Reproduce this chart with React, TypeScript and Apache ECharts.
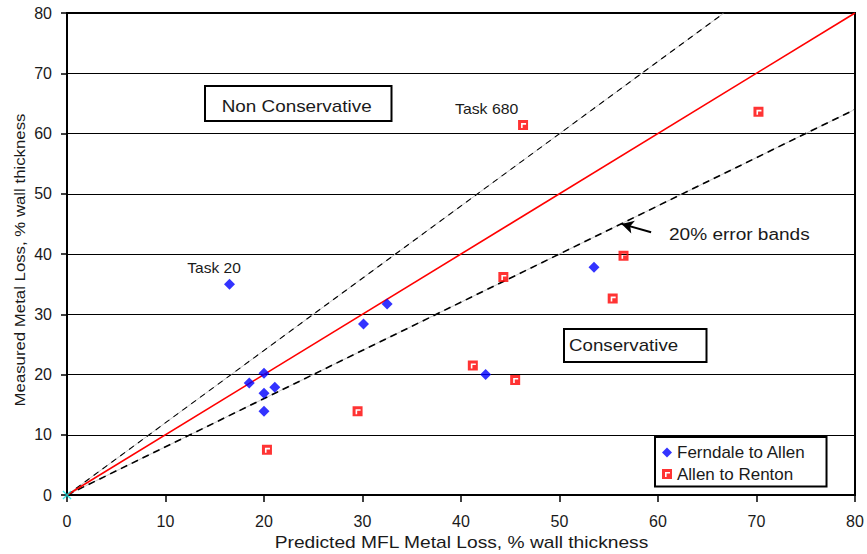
import React, { useEffect, useRef } from "react";
import * as echarts from "echarts";

const ferndaleToAllen: [number, number][] = [
  [16.5, 35.0], [18.5, 18.6], [20.0, 20.2], [20.0, 16.9], [21.1, 17.9],
  [20.0, 13.9], [30.1, 28.4], [32.5, 31.7], [42.5, 20.0], [53.5, 37.8],
];
const allenToRenton: [number, number][] = [
  [20.3, 7.5], [29.5, 13.9], [41.2, 21.5], [44.3, 36.2], [45.5, 19.1],
  [46.3, 61.4], [55.4, 32.6], [56.5, 39.7], [70.2, 63.6],
];
const origin: [number, number][] = [[0, 0]];
const perfectLine: [number, number][] = [[0, 0], [80, 80]];
const upperBand: [number, number][] = [[0, 0], [66.7, 80]];
const lowerBand: [number, number][] = [[0, 0], [80, 64]];
const arrowFrom = [59.3, 43.6];
const arrowTo = [56.3, 45.0];

const FONT = "Arial, 'Liberation Sans', sans-serif";
const TXT = "#1a1a1a";
const squareSymbol =
  "path://M0 0 L10 0 L10 10 L0 10 Z M3 3 L3 8 L4.6 8 L4.6 4.6 L8 4.6 L8 3 Z";
const crossSymbol =
  "path://M0 1 L1 0 L5 4 L9 0 L10 1 L6 5 L10 9 L9 10 L5 6 L1 10 L0 9 L4 5 Z";

function label(text: string, x: number, y: number, size: number, sx: number, rot = 0, align = "left") {
  return {
    type: "text", x, y, rotation: rot, scaleX: sx, z: 11,
    style: { text, fontSize: size, fill: TXT, fontFamily: FONT, align, verticalAlign: "middle" },
  };
}

export default function App() {
  const ref = useRef<HTMLDivElement>(null);
  useEffect(() => {
    if (!ref.current) return;
    const chart = echarts.init(ref.current, undefined, { renderer: "svg" });
    chart.setOption({
      animation: false,
      textStyle: { fontFamily: FONT },
      grid: {
        left: 67, right: 12, top: 13, bottom: 59,
        outerBoundsMode: "none", containLabel: false,
        show: true, borderColor: "#000", borderWidth: 2,
      },
      xAxis: {
        type: "value", min: 0, max: 80, interval: 10,
        axisLine: { lineStyle: { color: "#000", width: 2 } },
        axisTick: { show: true, length: 7, lineStyle: { color: "#000", width: 1.5 } },
        axisLabel: { fontSize: 16, color: TXT, margin: 18, fontFamily: FONT },
        splitLine: { show: false },
      },
      yAxis: {
        type: "value", min: 0, max: 80, interval: 10,
        axisLine: { show: true, lineStyle: { color: "#000", width: 2 } },
        axisTick: { show: true, length: 6, lineStyle: { color: "#000", width: 1.5 } },
        axisLabel: { fontSize: 16, color: TXT, margin: 15, fontFamily: FONT },
        splitLine: { show: true, lineStyle: { color: "#000", width: 1 } },
      },
      legend: {
        data: ["Ferndale to Allen", "Allen to Renton"],
        orient: "vertical",
        left: 655, top: 437,
        itemWidth: 10, itemHeight: 10, itemGap: 4.5,
        padding: [7, 21, 4, 7],
        borderColor: "#000", borderWidth: 2, backgroundColor: "#fff",
        textStyle: { fontSize: 17, color: TXT, fontFamily: FONT },
      },
      series: [
        {
          type: "line", data: lowerBand, symbol: "none", silent: true,
          lineStyle: { color: "#c8c8c8", width: 1 }, z: 2,
        },
        {
          type: "line", data: lowerBand, symbol: "none", silent: true,
          lineStyle: { color: "#000", width: 1.6, type: [7, 5] }, z: 3,
          markLine: {
            silent: true, symbol: ["none", "arrow"], symbolSize: [10, 12],
            label: { show: false },
            lineStyle: { color: "#000", width: 2, type: "solid" },
            data: [[{ coord: arrowFrom }, { coord: arrowTo }]],
          },
        },
        {
          type: "line", data: upperBand, symbol: "none", silent: true,
          lineStyle: { color: "#c8c8c8", width: 1 }, z: 2,
        },
        {
          type: "line", data: upperBand, symbol: "none", silent: true,
          lineStyle: { color: "#000", width: 1.1, type: [6, 5] }, z: 3,
        },
        {
          type: "line", data: perfectLine, symbol: "none", silent: true,
          lineStyle: { color: "#ff0000", width: 1.6 }, z: 4,
        },
        {
          name: "Ferndale to Allen", type: "scatter", data: ferndaleToAllen,
          symbol: "diamond", symbolSize: 11,
          itemStyle: { color: "#0000ff" }, z: 6,
        },
        {
          name: "Allen to Renton", type: "scatter", data: allenToRenton,
          symbol: squareSymbol, symbolSize: 10,
          itemStyle: { color: "#ff0000" }, z: 6,
        },
        {
          type: "scatter", data: origin, symbol: crossSymbol, symbolSize: 9,
          itemStyle: { color: "#00e5e5" }, z: 7, clip: false,
        },
      ],
      graphic: [
        { type: "rect", x: 205, y: 86, shape: { width: 186.5, height: 35 },
          style: { fill: "#fff", stroke: "#000", lineWidth: 2 }, z: 10 },
        label("Non Conservative", 221.7, 106.5, 16, 1.18),
        { type: "rect", x: 564, y: 329, shape: { width: 142.5, height: 33 },
          style: { fill: "#fff", stroke: "#000", lineWidth: 2 }, z: 10 },
        label("Conservative", 569, 345.5, 16, 1.17),
        label("20% error bands", 669, 235, 16, 1.19),
        label("Task 20", 187.3, 268, 14, 1.11),
        label("Task 680", 455, 108.5, 14, 1.13),
        label("Predicted MFL Metal Loss, % wall thickness", 461.5, 543, 16, 1.2, 0, "center"),
        label("Measured Metal Loss, % wall thickness", 20, 260, 15, 1.12, Math.PI / 2, "center"),
      ],
    });
    return () => chart.dispose();
  }, []);
  return <div ref={ref} style={{ width: 867, height: 554, position: "absolute", left: 0, top: 0 }} />;
}
